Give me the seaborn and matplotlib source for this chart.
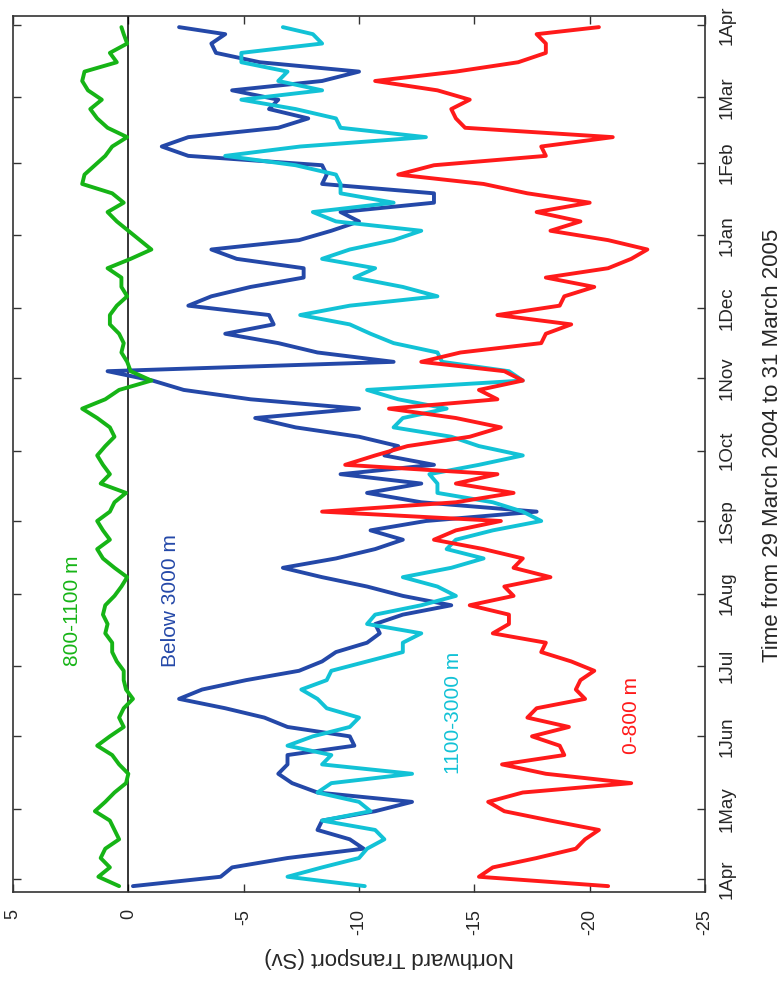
import numpy as np
import pandas as pd
import matplotlib
matplotlib.use("Agg")
import matplotlib.pyplot as plt
import matplotlib.dates as mdates
import seaborn as sns

# --- sampled dates (every 4 days from 29 March 2004, plus the last day) ---
dates = list(pd.date_range("2004-03-29", periods=92, freq="4D")) + [pd.Timestamp("2005-03-31")]

# --- transport per layer (Sv) ---
green_800_1100 = [
    0.4, 1.3, 0.8, 1.2, 1.0, 0.4, 0.6, 0.8, 1.45, 1.0, 0.6, 0.1, 0.0, 0.4, 0.7, 1.35, 0.8, 0.2, 0.4, 0.2, -0.2, 0.1, 0.2, 0.2,
    0.5, 0.7, 0.7, 1.0, 0.9, 1.1, 1.0, 0.6, 0.3, 0.05, 0.6, 1.1, 1.35, 0.8, 1.1, 1.35, 0.8, 0.6, 0.1, 1.2, 0.8, 1.1, 1.35,
    1.0, 0.6, 0.8, 1.35, 2.0, 1.0, 0.4, -1.0, -0.1, 0.05, 0.3, 0.2, 0.4, 0.8, 0.8, 0.5, 0.05, 0.3, 0.3, 0.9, -0.1, -1.0, -0.5, 0.0,
    0.5, 0.9, 0.2, 0.7, 2.0, 1.9, 1.45, 1.0, 0.7, 0.05, 0.9, 1.35, 1.65, 1.15, 1.75, 2.0, 1.9, 0.5, 0.8, 0.05, 0.2, 0.3,
]
blue_below_3000 = [
    -0.2, -4.0, -4.5, -6.9, -10.2, -9.6, -8.2, -8.4, -10.7, -12.3, -8.2, -7.1, -6.5, -6.9, -6.9, -9.8, -9.6, -6.9, -5.9, -4.2, -2.2, -3.2, -5.1, -7.4,
    -8.4, -9.0, -10.35, -10.9, -10.7, -11.9, -14.0, -11.9, -10.35, -8.4, -6.7, -9.0, -10.7, -11.9, -10.5, -12.9, -17.7, -12.7, -10.35, -12.7, -9.2, -13.25, -11.1,
    -11.7, -10.0, -7.25, -5.5, -10.0, -5.3, -2.4, -1.05, 0.9, -11.5, -8.2, -6.5, -4.2, -6.3, -6.1, -2.6, -3.6, -5.3, -7.6, -7.6, -4.7, -3.6, -7.4, -8.8,
    -10.0, -9.2, -13.25, -13.25, -8.4, -8.6, -8.4, -2.6, -1.45, -2.6, -6.5, -7.8, -6.1, -6.5, -4.5, -8.4, -10.0, -5.7, -3.8, -3.6, -4.2, -2.2,
]
cyan_1100_3000 = [
    -10.25, -6.9, -8.4, -10.0, -10.35, -11.1, -10.7, -8.4, -10.5, -10.0, -8.2, -8.8, -12.3, -8.4, -8.8, -6.9, -8.0, -9.6, -10.0, -8.6, -8.2, -7.5, -8.6, -8.8,
    -10.35, -11.9, -11.9, -12.7, -10.35, -10.7, -12.7, -14.2, -13.4, -11.9, -14.0, -15.4, -13.8, -14.2, -15.8, -17.9, -17.1, -15.8, -13.4, -13.4, -13.05, -15.2, -17.1,
    -15.2, -14.0, -11.5, -11.9, -13.8, -11.7, -10.35, -17.1, -16.5, -13.6, -13.4, -11.5, -10.5, -9.6, -7.45, -9.6, -13.4, -11.9, -9.8, -10.7, -8.4, -9.6, -11.5, -12.7,
    -9.0, -8.0, -11.5, -9.2, -9.2, -9.0, -7.25, -4.2, -7.45, -12.9, -9.2, -9.0, -7.25, -4.9, -8.4, -6.5, -6.9, -4.9, -4.9, -8.4, -8.0, -6.7,
]
red_0_800 = [
    -20.8, -15.2, -15.8, -17.7, -19.4, -19.8, -20.4, -18.3, -16.3, -15.6, -17.1, -21.8, -18.1, -16.2, -18.9, -18.7, -17.5, -19.1, -17.3, -17.7, -19.8, -19.4, -19.6, -20.2,
    -19.2, -17.9, -18.1, -15.8, -16.5, -16.5, -14.8, -16.7, -16.3, -18.3, -16.7, -17.1, -15.4, -13.25, -14.2, -16.15, -8.4, -14.2, -16.7, -14.2, -16.0, -9.4, -10.7,
    -12.1, -14.8, -16.15, -14.2, -11.3, -16.0, -15.2, -17.1, -16.3, -12.7, -14.4, -17.9, -18.1, -19.2, -16.0, -18.7, -18.9, -20.2, -18.1, -20.8, -21.8, -22.5, -20.8, -18.3,
    -19.6, -17.7, -20.0, -17.3, -15.4, -11.7, -13.25, -18.1, -17.9, -21.0, -14.6, -14.2, -14.0, -14.8, -13.4, -10.7, -14.2, -16.9, -18.1, -18.1, -17.7, -20.4,
]

layers = ["Below 3000 m", "1100-3000 m", "0-800 m", "800-1100 m"]
colors = ["#2448a8", "#12c2d6", "#ff1a1a", "#16b416"]

value_ticks = [5, 0, -5, -10, -15, -20, -25]
month_ticks = ["2004-04-01", "2004-05-01", "2004-06-01", "2004-07-01", "2004-08-01", "2004-09-01",
               "2004-10-01", "2004-11-01", "2004-12-01", "2005-01-01", "2005-02-01", "2005-03-01", "2005-04-01"]
month_labels = ["1Apr", "1May", "1Jun", "1Jul", "1Aug", "1Sep", "1Oct", "1Nov", "1Dec", "1Jan", "1Feb", "1Mar", "1Apr"]

series = [blue_below_3000, cyan_1100_3000, red_0_800, green_800_1100]
df = pd.concat(
    [pd.DataFrame({"date": dates, "transport": vals, "layer": name}) for name, vals in zip(layers, series)],
    ignore_index=True,
)

sns.set_style("ticks")
plt.rcParams["font.family"] = ["Liberation Sans", "DejaVu Sans"]

fig = plt.figure(figsize=(7.83, 9.83), dpi=100)
ax = fig.add_axes([0.0166, 0.0926, 0.8838, 0.8911])

sns.lineplot(data=df, x="transport", y="date", hue="layer", hue_order=layers,
             palette=dict(zip(layers, colors)), orient="y", sort=False,
             estimator=None, linewidth=2.8, legend=False, ax=ax)

ax.axvline(0, color="black", lw=1.1, zorder=1)

ax.set_xlim(5, -25)
ax.set_ylim(mdates.date2num(pd.Timestamp("2004-03-26 12:00")), mdates.date2num(pd.Timestamp("2005-04-04 18:00")))

ax.set_xticks(value_ticks)
ax.set_xticklabels([str(v) for v in value_ticks], rotation=90, fontsize=13)
ax.set_yticks(mdates.date2num(pd.to_datetime(month_ticks)))
ax.set_yticklabels(month_labels, rotation=90, va="center", fontsize=13.5)

ax.yaxis.tick_right()
ax.tick_params(axis="both", direction="in", length=6, width=1, color="#333333",
               top=True, bottom=True, left=True, right=True)
ax.tick_params(axis="x", pad=12)
ax.tick_params(axis="y", pad=10, labelleft=False, labelright=True)
for s in ax.spines.values():
    s.set_visible(True)
    s.set_linewidth(1.2)
    s.set_color("#333333")

ax.set_xlabel("Northward Transport (Sv)", fontsize=16, rotation=180)
ax.xaxis.set_label_coords(0.543, -0.075)
ax.xaxis.label.set_va("center")
ax.set_ylabel("Time from 29 March 2004 to 31 March 2005", fontsize=16, rotation=90)
ax.yaxis.set_label_position("right")
ax.yaxis.set_label_coords(1.097, 0.51)
ax.yaxis.label.set_va("center")

d0 = pd.Timestamp("2004-04-01")
labels = [
    (2.43, 114.5, "800-1100 m", colors[3]),
    (-1.82, 119, "Below 3000 m", colors[0]),
    (-14.1, 71, "1100-3000 m", colors[1]),
    (-21.8, 70, "0-800 m", colors[2]),
]
for xv, day, txt, c in labels:
    ax.text(xv, mdates.date2num(d0 + pd.Timedelta(days=day)), txt, color=c, fontsize=15,
            rotation=90, ha="center", va="center")

fig.savefig("out.png", dpi=100)
